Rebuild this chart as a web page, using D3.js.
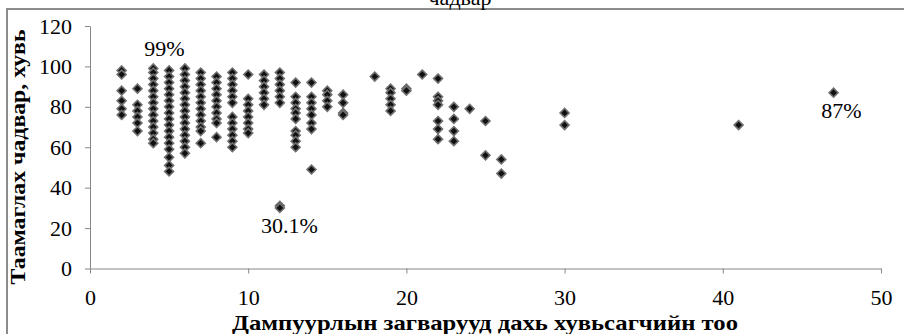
<!DOCTYPE html>
<html>
<head>
<meta charset="utf-8">
<script src="https://cdn.jsdelivr.net/npm/d3@7"></script>
<style>
  body { margin: 0; background: #fff; }
  svg text { font-family: "Liberation Serif", "DejaVu Serif", serif !important; fill: #000; }
  .axis path, .axis line { stroke: #868686; }
  .axis text { font-size: 22px; }
</style>
</head>
<body>
<div id="graph"></div>
<script>
// number of variables in each bankruptcy model (x)
var varCounts = [2, 3, 4, 5, 6, 7, 8, 9, 10, 11, 12, 13, 14, 15, 16, 18, 19, 20, 21, 22, 23, 24, 25, 26, 30, 41, 47];

// predictive accuracy, % (y) for each x above
var accuracy = [
  [98, 96, 88, 83, 79, 76],
  [89, 81, 78, 75, 72, 68],
  [99, 97, 94, 91, 88, 85, 82, 79, 76, 73, 70, 67, 64, 62],
  [98, 95, 92, 89, 86, 83, 80, 77, 74, 71, 68, 65, 62, 59, 55, 51, 48],
  [99, 96, 93, 90, 87, 84, 81, 78, 75, 72, 69, 66, 63, 60, 57],
  [97, 94, 91, 88, 85, 82, 79, 76, 73, 70, 68, 62],
  [95, 92, 89, 86, 83, 80, 77, 74, 72, 65],
  [97, 94, 91, 88, 85, 82, 75, 72, 69, 66, 63, 60],
  [96, 84, 81, 78, 75, 72, 69, 67],
  [96, 93, 90, 87, 84, 81],
  [97, 94, 91, 88, 85, 82, 31, 30],
  [92, 85, 82, 79, 77, 74, 68, 66, 63, 60],
  [92, 85, 82, 79, 76, 72, 69, 49],
  [88, 86, 83, 80],
  [86, 82, 77, 76],
  [95],
  [89, 87, 84, 81, 78],
  [89, 88],
  [96],
  [94, 85, 83, 81, 73, 69, 64],
  [80, 74, 68, 63],
  [79],
  [73, 56],
  [54, 47],
  [77, 71],
  [71],
  [87]
];

// data labels
var labelText = ["99%", "30.1%", "87%"];
var labelX = [4.7, 12.6, 47.5];
var labelY = [99, 30, 87];

var xTicks = [0, 10, 20, 30, 40, 50];
var yTicks = [0, 20, 40, 60, 80, 100, 120];

var titleText = "чадвар";
var xTitle = "Дампуурлын загварууд дахь хувьсагчийн тоо";
var yTitle = "Таамаглах чадвар, хувь";

var points = [];
varCounts.forEach(function(v, i) {
  accuracy[i].forEach(function(a) { points.push({x: v, y: a}); });
});

var W = 904, H = 334;

var svg = d3.select("#graph")
  .append("svg")
    .attr("width", W)
    .attr("height", H);

// chart frame (clipped by the picture on the right and bottom)
svg.append("rect")
  .attr("x", 7).attr("y", 9)
  .attr("width", W + 10).attr("height", H + 10)
  .attr("fill", "none")
  .attr("stroke", "#8c8c8c")
  .attr("stroke-width", 2);

// title, only its lower part shows above the frame
svg.append("text")
  .attr("x", 460).attr("y", 5)
  .attr("text-anchor", "middle")
  .style("font-size", "22px")
  .text(titleText);

var x = d3.scaleLinear().domain([0, 50]).range([90, 881]);
var y = d3.scaleLinear().domain([0, 120]).range([268.5, 26]);

svg.append("g")
  .attr("class", "axis")
  .attr("transform", "translate(0," + y(0) + ")")
  .call(d3.axisBottom(x).tickValues(xTicks).tickSize(5).tickSizeOuter(0))
  .call(function(g) { g.selectAll("text").attr("y", 36).attr("dy", 0); });

svg.append("g")
  .attr("class", "axis")
  .attr("transform", "translate(" + x(0) + ",0)")
  .call(d3.axisLeft(y).tickValues(yTicks).tickSize(5).tickSizeOuter(0).tickPadding(13));

// markers
svg.append("g")
  .selectAll("path")
  .data(points)
  .enter().append("path")
    .attr("d", d3.symbol().type(d3.symbolSquare).size(40))
    .attr("transform", function(d) { return "translate(" + x(d.x) + "," + y(d.y) + ") rotate(45)"; })
    .attr("fill", "#111")
    .attr("stroke", "#707070")
    .attr("stroke-width", 1.6);

// data labels
svg.append("g")
  .selectAll("text")
  .data(labelText)
  .enter().append("text")
    .attr("x", function(d, i) { return x(labelX[i]); })
    .attr("y", function(d, i) {
      return i === 0 ? y(labelY[i]) - 12 : y(labelY[i]) + 25;
    })
    .attr("text-anchor", "middle")
    .style("font-size", "22px")
    .text(function(d) { return d; });

// axis titles
svg.append("text")
  .attr("x", 485).attr("y", 330)
  .attr("text-anchor", "middle")
  .attr("textLength", 506)
  .attr("lengthAdjust", "spacingAndGlyphs")
  .style("font-size", "22px")
  .style("font-weight", "bold")
  .text(xTitle);

svg.append("text")
  .attr("transform", "translate(25,157) rotate(-90)")
  .attr("text-anchor", "middle")
  .attr("textLength", 255)
  .attr("lengthAdjust", "spacingAndGlyphs")
  .style("font-size", "22px")
  .style("font-weight", "bold")
  .text(yTitle);
</script>
</body>
</html>
